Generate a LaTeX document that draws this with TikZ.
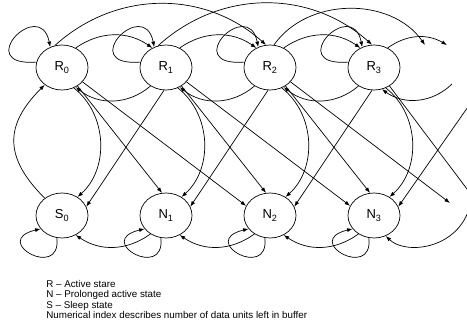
\documentclass[tikz,border=0pt]{standalone}
\usepackage{fontspec}
\setmainfont{Liberation Sans}
\usetikzlibrary{arrows.meta,shapes.geometric}

\begin{document}
\begin{tikzpicture}[x=1pt, y=-1pt, >={Latex[length=5.5pt,width=4pt]}, line width=0.7pt,
    state/.style={ellipse, draw, minimum width=52pt, minimum height=45pt, inner sep=0pt,
      font=\fontsize{13}{13}\selectfont},
    legend/.style={align=left, inner sep=0pt, font=\fontsize{9.8}{10.3}\selectfont}]
  \useasboundingbox (0,0) rectangle (467,322);
  \clip (0,0) rectangle (467,322);

  % states
  \node[state] (R0) at (62,67.5) {R\textsubscript{0}};
  \node[state] (R1) at (166,67.5) {R\textsubscript{1}};
  \node[state] (R2) at (270,67.5) {R\textsubscript{2}};
  \node[state] (R3) at (374,67.5) {R\textsubscript{3}};
  \node[state] (S0) at (62,215.5) {S\textsubscript{0}};
  \node[state] (N1) at (166,215.5) {N\textsubscript{1}};
  \node[state] (N2) at (270,215.5) {N\textsubscript{2}};
  \node[state] (N3) at (374,215.5) {N\textsubscript{3}};

  % loose ends towards the states beyond the border
  \coordinate (r4a) at (425,45);
  \coordinate (r4b) at (447,45);
  \coordinate (r4c) at (452,84);
  \coordinate (r4d) at (470,104);
  \coordinate (n4a) at (450,203);
  \coordinate (n4b) at (470,193);
  \coordinate (n4c) at (470,206);

  % self loops
  \foreach \s in {R0,R1,R2,R3}
    \draw[->] (\s.168) .. controls +(-65,5) and +(-10,-51) .. (\s.120);
  \foreach \s in {S0,N1,N2,N3}
    \draw[->] (\s.257) .. controls +(5,43) and +(-51,12) .. (\s.212);

  % one unit more / less
  \foreach \a/\b in {R0/R1,R1/R2,R2/R3}
    \draw[->] (\a.55) to[bend left=35] (\b.125);
  \draw[->] (R3.55) to[bend left=33] (r4b);
  \foreach \a/\b in {R1/R0,R2/R1,R3/R2}
    \draw[->] (\a.230) to[bend left=40] (\b.305);
  \draw[->] (r4c) to[bend left=40] (R3.290);

  % two units more
  \draw[->] (R0.108) to[bend left=42] (R2.100);
  \draw[->] (R1.110) to[bend left=42] (R3.95);
  \draw[->] (R2.80) to[bend left=55] (r4a);

  % active to prolonged and sleep
  \draw[->] (S0.135) to[bend left=45, looseness=1.3] (R0.225);
  \foreach \a/\b in {R0/S0,R1/N1,R2/N2,R3/N3}
    \draw[->] (\a.300) to[bend left=50] (\b.50);
  \foreach \a/\b in {R0/N1,R1/N2,R2/N3}
    \draw[->] (\a.310) -- (\b.100);
  \draw (R3.310) -- (n4b);
  \foreach \a/\b in {R1/S0,R2/N1,R3/N2}
    \draw[->] (\a.265) -- (\b.20);
  \draw[->] (r4d) -- (N3.20);
  \foreach \a/\b in {R0/N2,R1/N3}
    \draw[->] (\a.325) -- (\b.158);
  \draw[->] (R2.325) -- (n4a);

  % prolonged states down
  \foreach \a/\b in {N1/S0,N2/N1,N3/N2}
    \draw[->] (\a.230) to[bend left=35] (\b.305);
  \draw[->] (n4c) .. controls (458,250) and (405,255) .. (N3.300);

  \node[legend, anchor=north west] (key) at (46,280) {R -- Active stare\\
    N -- Prolonged active state\\S -- Sleep state\\
    Numerical index describes number of data units left in buffer};
\end{tikzpicture}
\end{document}
